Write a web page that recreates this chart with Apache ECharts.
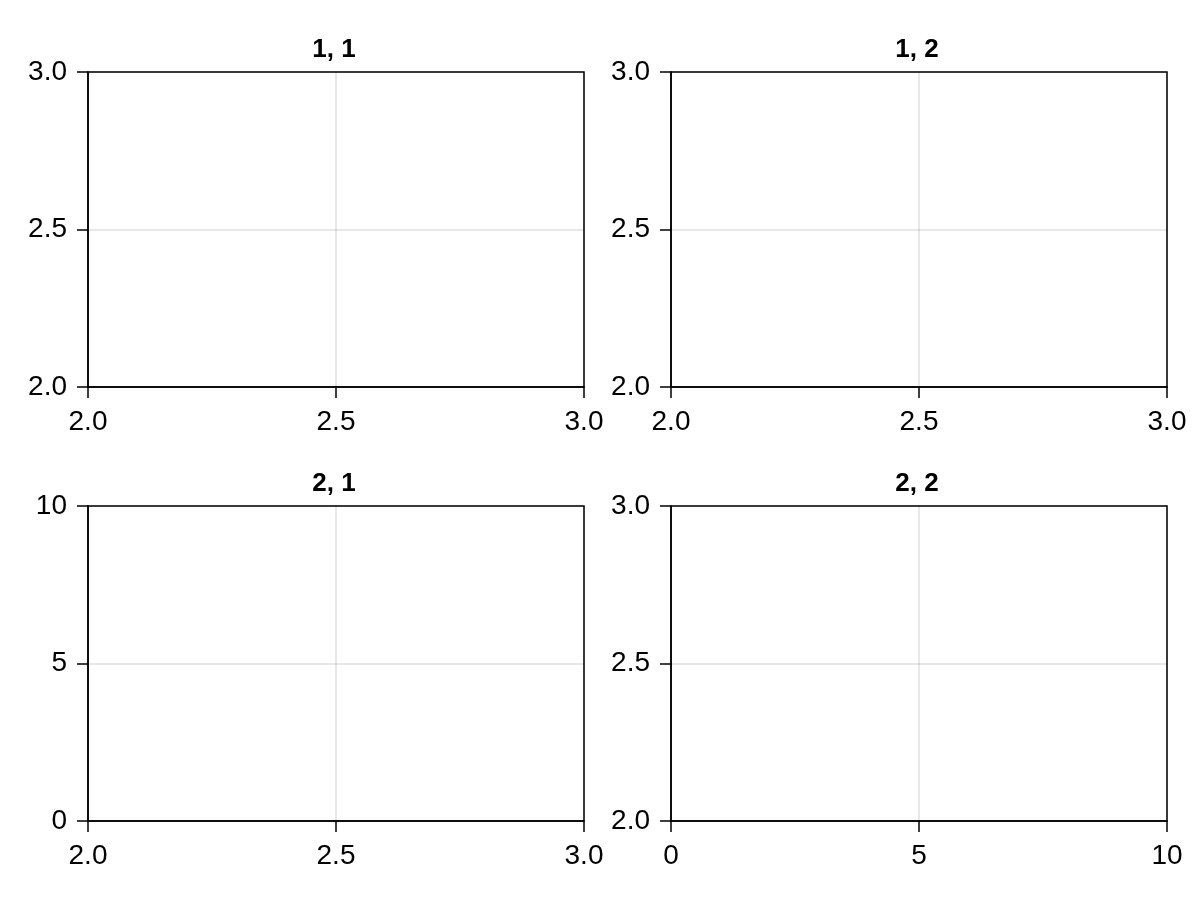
<!DOCTYPE html>
<html>
<head>
<meta charset="utf-8">
<script src="https://cdn.jsdelivr.net/npm/echarts@6/dist/echarts.min.js"></script>
<style>
html,body{margin:0;padding:0;background:#fff;}
#chart{width:1200px;height:900px;}
</style>
</head>
<body>
<div id="chart"></div>
<script>
// Panel titles
const titles = ["1, 1", "1, 2", "2, 1", "2, 2"];
// Axis limits and tick steps per panel [min, max, interval]
const xLimits = [[2, 3, 0.5], [2, 3, 0.5], [2, 3, 0.5], [0, 10, 5]];
const yLimits = [[2, 3, 0.5], [2, 3, 0.5], [0, 10, 5], [2, 3, 0.5]];
// Tick label decimals per panel
const xDecimals = [1, 1, 1, 0];
const yDecimals = [1, 1, 0, 1];

const gridPos = [
  {left: 88, top: 72},
  {left: 671, top: 72},
  {left: 88, top: 506},
  {left: 671, top: 506}
];
const GW = 496, GH = 315;
const FONT = "'Liberation Sans', Arial, Helvetica, sans-serif";

const grid = gridPos.map(p => ({
  left: p.left, top: p.top, width: GW, height: GH,
  show: true, borderColor: '#000', borderWidth: 1.5, backgroundColor: 'transparent'
}));

function makeAxis(lim, dec, idx, isX) {
  return {
    type: 'value', gridIndex: idx,
    min: lim[0], max: lim[1], interval: lim[2],
    axisLine: {show: true, onZero: false, lineStyle: {color: '#000', width: 1.5}},
    axisTick: {show: true, inside: false, length: 11, lineStyle: {color: '#000', width: 1.5}},
    axisLabel: {
      show: true, color: '#000', fontFamily: FONT, fontSize: 28,
      margin: isX ? 21 : 21,
      showMinLabel: true, showMaxLabel: true,
      hideOverlap: false,
      formatter: v => Number(v).toFixed(dec)
    },
    splitLine: {show: true, lineStyle: {color: 'rgba(0,0,0,0.12)', width: 1.5}}
  };
}

const xAxis = xLimits.map((l, i) => makeAxis(l, xDecimals[i], i, true));
const yAxis = yLimits.map((l, i) => makeAxis(l, yDecimals[i], i, false));

const graphic = titles.map((t, i) => ({
  type: 'text',
  x: gridPos[i].left + GW / 2 - 2,
  y: gridPos[i].top - 22,
  silent: true,
  style: {
    text: t, fill: '#000',
    font: "bold 26px " + FONT,
    textAlign: 'center', textVerticalAlign: 'middle'
  }
}));

const series = titles.map((t, i) => ({
  type: 'line', xAxisIndex: i, yAxisIndex: i, data: [], silent: true
}));

const chart = echarts.init(document.getElementById('chart'), null, {renderer: 'canvas'});
chart.setOption({
  backgroundColor: '#fff',
  animation: false,
  grid, xAxis, yAxis, series, graphic
});
</script>
</body>
</html>
